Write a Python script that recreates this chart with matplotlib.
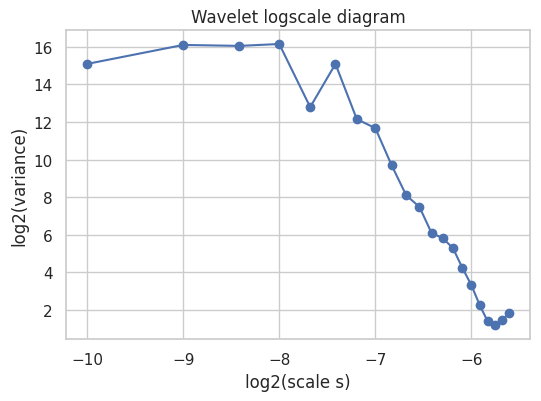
import matplotlib
matplotlib.use("Agg")
import matplotlib.pyplot as plt
import seaborn as sns

# log2 of the scale and log2 of the wavelet variance
log_scale = [-10.0, -9.0, -8.415, -8.0, -7.678, -7.415, -7.193, -7.0,
             -6.83, -6.678, -6.541, -6.415, -6.3, -6.193, -6.093, -6.0,
             -5.913, -5.83, -5.752, -5.678, -5.608]
log_var = [15.09, 16.1, 16.05, 16.15, 12.79, 15.09, 12.15, 11.67,
           9.69, 8.09, 7.48, 6.09, 5.82, 5.29, 4.22, 3.31,
           2.24, 1.38, 1.19, 1.45, 1.83]

sns.set_theme(style="whitegrid")

fig, ax = plt.subplots(figsize=(5.41, 4.02), dpi=100)
fig.subplots_adjust(left=0.122, right=0.98, top=0.923, bottom=0.154)

ax.plot(log_scale, log_var, marker="o")
ax.set_title("Wavelet logscale diagram")
ax.set_xlabel("log2(scale s)")
ax.set_ylabel("log2(variance)")

fig.savefig("out.png")
